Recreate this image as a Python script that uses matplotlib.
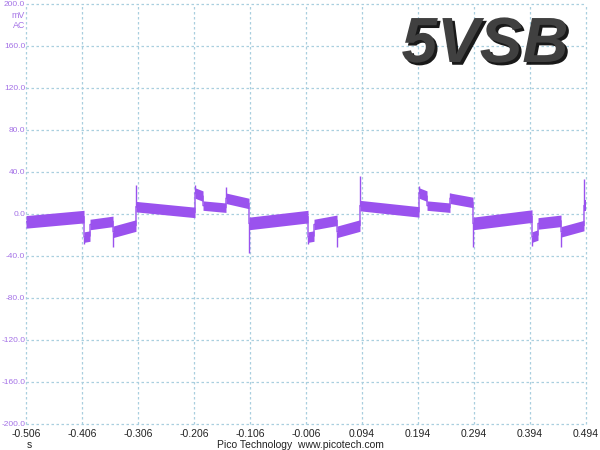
import matplotlib
matplotlib.use('Agg')
import matplotlib.pyplot as plt
import matplotlib.patheffects as pe

# ---------------- data ----------------
x_ticks = [-0.506, -0.406, -0.306, -0.206, -0.106, -0.006, 0.094, 0.194, 0.294, 0.394, 0.494]
x_tick_labels = ["-0.506", "-0.406", "-0.306", "-0.206", "-0.106", "-0.006",
                 "0.094", "0.194", "0.294", "0.394", "0.494"]
y_ticks = [-200, -160, -120, -80, -40, 0, 40, 80, 120, 160, 200]
y_tick_labels = ["-200.0", "-160.0", "-120.0", "-80.0", "-40.0", "0.0",
                 "40.0", "80.0", "120.0", "160.0", "200.0"]

# waveform segments: start time, end time (s), start level, end level (mV)
seg_t0 = [-0.506, -0.4024, -0.3917, -0.3506, -0.3096, -0.2042, -0.1899, -0.1489, -0.1078,
          -0.0024, 0.0083, 0.0494, 0.0904, 0.1958, 0.2101, 0.2511, 0.2922,
          0.3976, 0.4083, 0.4494, 0.4904]
seg_t1 = [-0.4024, -0.3917, -0.3506, -0.3096, -0.2042, -0.1899, -0.1489, -0.1078, -0.0024,
          0.0083, 0.0494, 0.0904, 0.1958, 0.2101, 0.2511, 0.2922, 0.3976,
          0.4083, 0.4494, 0.4904, 0.494]
seg_v0 = [-7.5, -22, -10, -17, 7, 20, 8, 15, -9,
          -22, -10, -17, 8, 20, 8, 15, -9,
          -22, -9, -17, 8]
seg_v1 = [-2.5, -21, -7, -11, 1.5, 17, 6, 10, -2.5,
          -21, -6, -11, 2, 17, 6, 11, -2,
          -20, -6.5, -11, 8]
band_halfwidth = [6, 5, 5, 5.5, 5, 5, 4.5, 5, 6,
                  5, 5, 5.5, 5, 5, 4.5, 5, 6,
                  5, 5.5, 5, 5]

# transient spikes at switching instants: time (s), peak (mV)
spike_t = [-0.4024, -0.3506, -0.3096, -0.2042, -0.1489, -0.1078,
           -0.0024, 0.0494, 0.0904, 0.1958, 0.2511, 0.2922,
           0.3976, 0.4494, 0.4904]
spike_v = [-29, -31, 28, 28, 26, -37,
           -29, -31, 36, 27, 20, -31,
           -30, -31, 33]

# ---------------- style ----------------
trace_color = '#9a52ee'
label_purple = '#a472e6'
grid_color = '#a9cfdf'
font = 'Liberation Sans'

fig = plt.figure(figsize=(6, 4.5), dpi=100)
fig.patch.set_facecolor('white')
ax = fig.add_axes([26 / 600, 26 / 450, 560 / 600, 420 / 450])
ax.set_xlim(x_ticks[0], x_ticks[-1])
ax.set_ylim(y_ticks[0], y_ticks[-1])
for s in ax.spines.values():
    s.set_visible(False)

ax.set_xticks(x_ticks)
ax.set_xticklabels(x_tick_labels, fontsize=7.5, family=font, color='#222222')
ax.set_yticks(y_ticks)
ax.set_yticklabels(y_tick_labels, fontsize=6.0, family=font, color=label_purple)
ax.tick_params(axis='both', length=0)
ax.tick_params(axis='x', pad=3.5)
ax.tick_params(axis='y', pad=0.6)
ax.grid(True, linestyle=(0, (2, 2)), color=grid_color, linewidth=0.9)
for gl in ax.get_xgridlines() + ax.get_ygridlines():
    gl.set_clip_on(False)
ax.set_axisbelow(True)

# trace: centre path (with vertical jumps) + noisy band envelope
path_t, path_v = [], []
for t0, t1, v0, v1, hw in zip(seg_t0, seg_t1, seg_v0, seg_v1, band_halfwidth):
    ax.fill_between([t0, t1], [v0 - hw, v1 - hw], [v0 + hw, v1 + hw],
                    color=trace_color, linewidth=0, zorder=3)
    path_t += [t0, t1]
    path_v += [v0, v1]
ax.plot(path_t, path_v, color=trace_color, linewidth=1.0, zorder=3)

# spikes: from the level of the segment starting there to the peak
for t, v in zip(spike_t, spike_v):
    i = seg_t0.index(t)
    ax.vlines(t, seg_v0[i], v, color=trace_color, linewidth=1.0, zorder=3)

# ---------------- texts ----------------
fig.text(25 / 600, 1 - 15 / 450, 'mV', fontsize=6.4, family=font, color=label_purple,
         ha='right', va='center')
fig.text(25 / 600, 1 - 25 / 450, 'AC', fontsize=6.4, family=font, color=label_purple,
         ha='right', va='center')
fig.text(29 / 600, 1 - 445 / 450, 's', fontsize=7.5, family=font, color='#222222',
         ha='center', va='center')
fig.text(0.5, 1 - 445 / 450, 'Pico Technology  www.picotech.com', fontsize=7.5,
         family=font, color='#222222', ha='center', va='center')

fig.text(485 / 600, 1 - 62 / 450, '5VSB', fontsize=46, family=font,
         fontweight='bold', style='italic', color='#404040', ha='center', va='baseline',
         path_effects=[pe.SimplePatchShadow(offset=(2, -2), shadow_rgbFace='black', alpha=0.9),
                       pe.Normal()])

fig.savefig('out.png', dpi=100)
